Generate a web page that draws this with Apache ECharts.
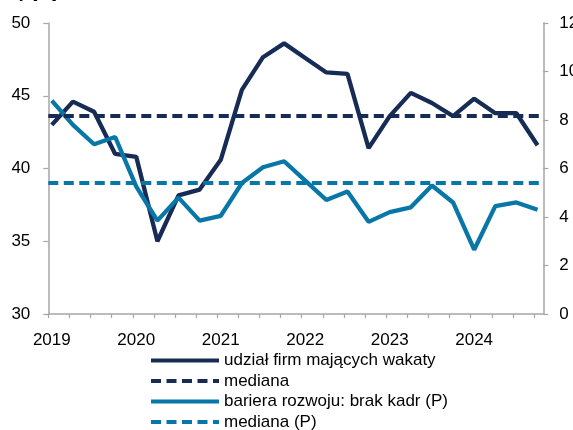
<!DOCTYPE html>
<html>
<head>
<meta charset="utf-8">
<script src="https://cdn.jsdelivr.net/npm/echarts@6/dist/echarts.min.js"></script>
<style>
  html, body { margin: 0; padding: 0; background: #fff; }
  #chart { width: 573px; height: 430px; }
</style>
</head>
<body>
<div id="chart"></div>
<script>
// Quarterly observations 2019 Q1 .. 2024 Q4
const quarters = [
  '2019 Q1','2019 Q2','2019 Q3','2019 Q4',
  '2020 Q1','2020 Q2','2020 Q3','2020 Q4',
  '2021 Q1','2021 Q2','2021 Q3','2021 Q4',
  '2022 Q1','2022 Q2','2022 Q3','2022 Q4',
  '2023 Q1','2023 Q2','2023 Q3','2023 Q4',
  '2024 Q1','2024 Q2','2024 Q3','2024 Q4'
];
// udział firm mających wakaty (left axis)
const vacancyShare = [
  43.0, 44.6, 43.9, 41.0,
  40.8, 35.0, 38.15, 38.55,
  40.6, 45.4, 47.65, 48.6,
  47.6, 46.6, 46.5, 41.4,
  43.6, 45.2, 44.5, 43.6,
  44.8, 43.8, 43.8, 41.6
];
const vacancyMedian = 43.6;
// bariera rozwoju: brak kadr (P) (right axis)
const staffBarrier = [
  8.8, 7.8, 7.0, 7.3,
  5.25, 3.85, 4.8, 3.85,
  4.05, 5.4, 6.05, 6.3,
  5.5, 4.7, 5.05, 3.8,
  4.2, 4.4, 5.3, 4.6,
  2.65, 4.45, 4.6, 4.3
];
const barrierMedian = 5.4;
const yearLabels = ['2019','2020','2021','2022','2023','2024'];
const seriesNames = ['udział firm mających wakaty', 'mediana', 'bariera rozwoju: brak kadr (P)', 'mediana (P)'];

// survey point placed mid first month of its quarter
function quarterToX(q) {
  const [y, qq] = q.split(' Q');
  return Number(y) + (Number(qq) - 1) / 4 + 1 / 24;
}
const xs = quarters.map(quarterToX);

const DARK = '#172c55';
const LIGHT = '#0877a8';
const AXIS = '#a6a6a6';
const FONT = '"Liberation Sans", Arial, sans-serif';

const chart = echarts.init(document.getElementById('chart'), null, { renderer: 'canvas' });
chart.setOption({
  animation: false,
  backgroundColor: '#fff',
  textStyle: { fontFamily: FONT },
  grid: { left: 48.3, right: 29.7, top: 23, bottom: 116, containLabel: false, outerBoundsMode: 'none' },
  graphic: [{
    type: 'text', right: 516, top: -15,
    style: { text: 'wakaty [%]', font: '17px ' + FONT, fill: '#000', align: 'right' }
  }],
  legend: {
    orient: 'vertical', left: 149, top: 352, height: 150, padding: 0,
    itemWidth: 68, itemHeight: 14, itemGap: 3.5,
    itemStyle: { opacity: 0 },
    lineStyle: { width: 4 },
    textStyle: { fontSize: 17, color: '#000', fontFamily: FONT },
    data: seriesNames
  },
  xAxis: {
    type: 'value', min: 2019, max: 2024.86, interval: 0.25,
    axisLine: { show: true, lineStyle: { color: AXIS, width: 1.5 } },
    axisTick: { show: true, length: 4, lineStyle: { color: AXIS, width: 1.2 } },
    splitLine: { show: false },
    axisLabel: {
      fontSize: 17, color: '#000', fontFamily: FONT, margin: 18, padding: [0, 0, 0, 7],
      showMaxLabel: false,
      formatter: function (v) {
        const r = Math.round(v);
        if (Math.abs(v - r) < 1e-6) {
          const s = String(r);
          return yearLabels.indexOf(s) >= 0 ? s : '';
        }
        return '';
      }
    }
  },
  yAxis: [{
    type: 'value', min: 30, max: 50, interval: 5, position: 'left',
    axisLine: { show: true, lineStyle: { color: AXIS, width: 1.5 } },
    axisTick: { show: true, length: 5, lineStyle: { color: AXIS, width: 1.2 } },
    splitLine: { show: false },
    axisLabel: { fontSize: 17, color: '#000', fontFamily: FONT, margin: 18 }
  }, {
    type: 'value', min: 0, max: 12, interval: 2, position: 'right',
    axisLine: { show: true, lineStyle: { color: AXIS, width: 1.5 } },
    axisTick: { show: true, length: 5, lineStyle: { color: AXIS, width: 1.2 } },
    splitLine: { show: false },
    axisLabel: { fontSize: 17, color: '#000', fontFamily: FONT, margin: 16 }
  }],
  series: [{
    name: seriesNames[0], type: 'line', yAxisIndex: 0,
    data: xs.map((x, i) => [x, vacancyShare[i]]),
    symbol: 'none', lineStyle: { color: DARK, width: 4.3 }, itemStyle: { color: DARK }, z: 3
  }, {
    name: seriesNames[1], type: 'line', yAxisIndex: 0, data: [],
    symbol: 'none', lineStyle: { color: DARK, width: 4, type: [10, 5.5] }, itemStyle: { color: DARK },
    markLine: {
      silent: true, symbol: 'none', label: { show: false },
      lineStyle: { color: DARK, width: 4, type: [10, 5.5] },
      data: [{ yAxis: vacancyMedian }]
    }
  }, {
    name: seriesNames[2], type: 'line', yAxisIndex: 1,
    data: xs.map((x, i) => [x, staffBarrier[i]]),
    symbol: 'none', lineStyle: { color: LIGHT, width: 4.3 }, itemStyle: { color: LIGHT }, z: 3
  }, {
    name: seriesNames[3], type: 'line', yAxisIndex: 1, data: [],
    symbol: 'none', lineStyle: { color: LIGHT, width: 4, type: [10, 5.5] }, itemStyle: { color: LIGHT },
    markLine: {
      silent: true, symbol: 'none', label: { show: false },
      lineStyle: { color: LIGHT, width: 4, type: [10, 5.5] },
      data: [{ yAxis: barrierMedian }]
    }
  }]
});
</script>
</body>
</html>
